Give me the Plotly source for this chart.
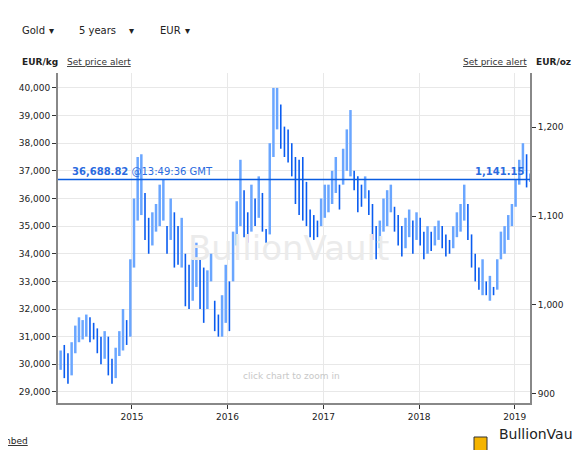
"""Five-year gold price chart in EUR, BullionVault style."""

import pandas as pd
import plotly.graph_objects as go

OZ_PER_KG = 32.1507

# fortnightly high / low, EUR per kg (thousands)
high_k = [
    30.5, 30.7, 30.4, 30.8, 31.4, 31.7, 31.6, 31.8, 31.7, 31.5, 31.3, 31.0, 31.2, 31.0, 30.2, 30.6, 31.2, 32.0, 31.6,
    33.8, 36.0, 37.5, 37.6, 36.2, 35.3, 35.5, 35.8, 36.5, 36.7, 35.0, 36.0, 35.5, 35.0, 35.3, 34.0, 33.6, 33.8, 34.4,
    33.8, 33.5, 33.4, 34.0, 32.3, 31.8, 32.5,
    33.6, 33.0, 34.8, 35.9, 37.4, 36.3, 35.5, 36.5, 36.0, 36.8, 36.2, 34.9, 38.0, 40.0, 40.0, 39.4, 38.6, 38.5, 38.0,
    37.5, 37.4, 37.5, 36.6, 35.6, 35.4, 35.2,
    36.0, 36.5, 36.5, 37.0, 37.5, 36.5, 37.8, 38.5, 39.2, 37.0, 36.8, 36.5, 36.8, 36.3, 35.8, 35.0, 35.2, 36.0, 36.3,
    36.5, 35.7, 35.4, 35.0, 35.3, 35.6, 35.2,
    35.5, 35.3, 34.8, 35.0, 34.8, 35.0, 35.2, 35.0, 34.7, 34.5, 35.0, 35.5, 35.8, 36.5, 35.8, 34.7, 34.0, 33.5, 33.8,
    33.0, 33.2, 32.8, 33.8, 34.8, 35.0, 35.4, 35.8,
    36.7, 37.4, 38.0, 37.6, 36.9,
]
low_k = [
    29.8, 29.5, 29.3, 29.6, 30.4, 30.8, 30.9, 31.0, 30.8, 30.9, 30.4, 30.0, 30.2, 29.6, 29.3, 29.5, 30.3, 30.5, 30.7,
    31.0, 33.5, 35.2, 35.4, 34.5, 34.0, 34.3, 34.8, 35.0, 35.2, 34.0, 34.5, 33.5, 33.6, 33.5, 32.1, 32.0, 32.3, 32.8,
    32.0, 31.5, 32.0, 33.0, 31.2, 31.0, 31.0,
    31.5, 31.2, 33.0, 34.3, 35.0, 34.6, 34.4, 34.8, 35.0, 35.3, 34.8, 34.4, 34.7, 37.5, 38.5, 37.8, 37.5, 37.3, 36.8,
    35.8, 35.4, 35.2, 35.0, 34.6, 34.5, 34.6,
    35.0, 35.3, 35.5, 35.8, 36.2, 35.6, 36.5, 37.0, 36.8, 36.3, 35.5, 35.7, 36.0, 35.4, 34.5, 33.8, 34.2, 34.8, 35.0,
    35.5, 34.8, 34.3, 33.9, 34.2, 34.6, 34.0,
    34.5, 34.3, 33.8, 34.0, 34.1, 34.3, 34.5, 34.2, 33.9, 34.0, 34.2, 34.6, 34.8, 35.2, 34.5, 33.5, 33.0, 32.7, 32.5,
    32.5, 32.3, 32.5, 32.7, 33.8, 34.0, 34.5, 35.0,
    35.7, 36.5, 37.0, 36.4, 36.6,
]
first_bar = "2014-04-04"
last_price_kg = 36688.82
last_price_oz = 1141.15
last_time = "13:49:36 GMT"
year_ticks = ["2015-01-01", "2016-01-01", "2017-01-01", "2018-01-01", "2019-01-01"]
year_labels = ["2015", "2016", "2017", "2018", "2019"]
menus = ["Gold", "5 years", "EUR"]

dates = pd.date_range(first_bar, periods=len(high_k), freq="14D")

# plot area in pixels
W, H = 580, 450
L, R, T, B = 50, 58, 65, 55
PW, PH = W - L - R, H - T - B


def px_x(x):
    return (x - L) / PW


def px_y(y):
    return 1 - (y - T) / PH


# split bars into rising and falling for the two blues
up_x, up_y, dn_x, dn_y = [], [], [], []
for i, d in enumerate(dates):
    rising = i == 0 or high_k[i] + low_k[i] >= high_k[i - 1] + low_k[i - 1]
    xs, ys = (up_x, up_y) if rising else (dn_x, dn_y)
    xs += [d, d, None]
    ys += [low_k[i] * 1000, high_k[i] * 1000, None]

fig = go.Figure()
fig.add_trace(go.Scatter(x=up_x, y=up_y, mode="lines", line=dict(color="#6aa6ff", width=2.5),
                         hoverinfo="skip", showlegend=False))
fig.add_trace(go.Scatter(x=dn_x, y=dn_y, mode="lines", line=dict(color="#0a5cf0", width=1.6),
                         hoverinfo="skip", showlegend=False))

y_lo, y_hi = 28600, 40540
fig.add_trace(go.Scatter(x=[dates[0]], y=[y_lo / OZ_PER_KG], yaxis="y2", mode="markers",
                         marker=dict(opacity=0), hoverinfo="skip", showlegend=False))

fig.add_hline(y=last_price_kg, line=dict(color="#0a5ce0", width=1.5))

font = "DejaVu Sans"
ann = [
    dict(x=px_x(62), y=last_price_kg, yref="y", text=f"<b>{last_price_kg:,.2f}</b> @{last_time}",
         xanchor="left", yanchor="bottom", font=dict(color="#2a6be0", size=10)),
    dict(x=px_x(518), y=last_price_kg, yref="y", text=f"<b>{last_price_oz:,.2f}</b>",
         xanchor="right", yanchor="bottom", font=dict(color="#2a6be0", size=10)),
    dict(x=px_x(280), y=px_y(240), text="BullionVault", font=dict(color="#ebebeb", size=34)),
    dict(x=px_x(283), y=px_y(375), text="click chart to zoom in", font=dict(color="#c8c8c8", size=9)),
    dict(x=px_x(12), y=px_y(47), text="<b>EUR/kg</b>", xanchor="left", font=dict(size=9)),
    dict(x=px_x(57), y=px_y(47), text="<u>Set price alert</u>", xanchor="left", font=dict(size=9, color="#333")),
    dict(x=px_x(521), y=px_y(47), text="<u>Set price alert</u>", xanchor="right", font=dict(size=9, color="#333")),
    dict(x=px_x(526), y=px_y(47), text="<b>EUR/oz</b>", xanchor="left", font=dict(size=9)),
    dict(x=px_x(-8), y=px_y(440), text="<u>mbed</u>", xanchor="left", font=dict(size=9)),
    dict(x=px_x(576), y=px_y(436), text="BullionVault", xanchor="right", font=dict(size=14, color="#222")),
]
boxes = [(5, 56), (62, 136), (143, 192)]
for (x0, x1), label in zip(boxes, menus):
    ann.append(dict(x=px_x(x0 + 7), y=px_y(15), text=label, xanchor="left", font=dict(size=10, color="#222")))
    ann.append(dict(x=px_x(x1 - 8), y=px_y(15), text="▾", xanchor="right", font=dict(size=10, color="#222")))

shapes = [
    dict(type="rect", xref="paper", yref="paper", x0=px_x(0), x1=px_x(W), y0=px_y(33), y1=px_y(0),
         fillcolor="#f2f2f2", line_width=0, layer="above"),
]
for x0, x1 in boxes:
    shapes.append(dict(type="rect", xref="paper", yref="paper", x0=px_x(x0), x1=px_x(x1),
                       y0=px_y(25), y1=px_y(5), fillcolor="white", line_width=0, layer="above"))
# small gold cube logo
shapes.append(dict(type="rect", xref="paper", yref="paper", x0=px_x(466), x1=px_x(479),
                   y0=px_y(444), y1=px_y(429), fillcolor="#f5b400", line=dict(color="#333", width=1),
                   layer="above"))

for a in ann:
    a.setdefault("xref", "paper")
    a.setdefault("yref", "paper")
    a["showarrow"] = False
    a["font"].setdefault("family", font)

axis_style = dict(showline=True, linecolor="#888", linewidth=2, ticks="outside", ticklen=4,
                  tickcolor="#333", zeroline=False, automargin=False, tickfont=dict(size=9))

fig.update_layout(
    width=W, height=H, margin=dict(l=L, r=R, t=T, b=B),
    paper_bgcolor="white", plot_bgcolor="white",
    font=dict(family=font, size=9, color="#222"),
    annotations=ann, shapes=shapes,
    xaxis=dict(range=["2014-03-25", "2019-02-28"], tickvals=year_ticks, ticktext=year_labels,
               showgrid=True, gridcolor="#e8e8e8", **axis_style),
    yaxis=dict(range=[y_lo, y_hi], tickvals=list(range(29000, 40001, 1000)), tickformat=",",
               showgrid=True, gridcolor="#e8e8e8", **axis_style),
    yaxis2=dict(range=[y_lo / OZ_PER_KG, y_hi / OZ_PER_KG], overlaying="y", side="right",
                tickvals=[900, 1000, 1100, 1200], tickformat=",", showgrid=False, **axis_style),
)

fig.write_html("out.html")
